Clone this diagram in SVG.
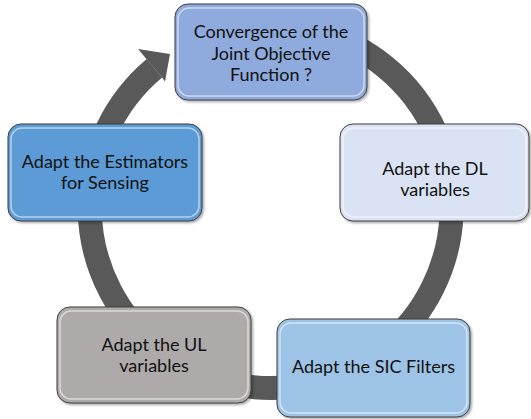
<svg xmlns="http://www.w3.org/2000/svg" width="531" height="419" viewBox="0 0 531 419">
<defs>
<style>
.box{stroke:#3f3f3f;stroke-width:1}
.bevel{fill:none;stroke:#ffffff;stroke-opacity:0.55;stroke-width:1.5}
.lbl{font-family:Lato,"Open Sans","Liberation Sans",sans-serif;font-size:18px;fill:#111111;text-anchor:middle}
.ring{fill:none;stroke:#595959;stroke-width:24}
</style>
<filter id="sh" x="-10%" y="-10%" width="130%" height="130%">
<feDropShadow dx="1.5" dy="1.5" stdDeviation="1.2" flood-color="#000" flood-opacity="0.35"/>
</filter>
</defs>
<rect width="531" height="419" fill="#ffffff"/>
<g id="connectors">
<path class="ring" d="M 317.6 32.2 A 181 181 0 1 1 154.4 68.3"/>
<polygon fill="#595959" points="146.7,59.2 138,49 170,54 165,81.5 162.1,77.5"/>
</g>
<g id="node-convergence">
<rect class="box" x="175" y="4" width="192" height="96" rx="13" fill="#8faadc" filter="url(#sh)"/>
<rect class="bevel" x="178" y="8" width="186" height="88" rx="11"/>
<text class="lbl" x="271" y="38">Convergence of the</text>
<text class="lbl" x="271" y="59.5">Joint Objective</text>
<text class="lbl" x="271" y="81">Function ?</text>
</g>
<g id="node-dl">
<rect class="box" x="340" y="124" width="189" height="97" rx="13" fill="#dae3f3" filter="url(#sh)"/>
<rect class="bevel" x="343" y="128" width="183" height="89" rx="11"/>
<text class="lbl" x="435" y="175">Adapt the DL</text>
<text class="lbl" x="435" y="196">variables</text>
</g>
<g id="node-sic">
<rect class="box" x="277" y="319" width="193" height="98" rx="13" fill="#9dc3e6" filter="url(#sh)"/>
<rect class="bevel" x="280" y="323" width="187" height="90" rx="11"/>
<text class="lbl" x="373.5" y="373">Adapt the SIC Filters</text>
</g>
<g id="node-ul">
<rect class="box" x="57" y="307" width="194" height="96" rx="13" fill="#aeaaaa" filter="url(#sh)"/>
<rect class="bevel" x="60" y="311" width="188" height="88" rx="11"/>
<text class="lbl" x="154" y="351">Adapt the UL</text>
<text class="lbl" x="154" y="372">variables</text>
</g>
<g id="node-estimators">
<rect class="box" x="8" y="124" width="194" height="97" rx="13" fill="#5b9bd5" filter="url(#sh)"/>
<rect class="bevel" x="11" y="128" width="188" height="89" rx="11"/>
<text class="lbl" x="105" y="168">Adapt the Estimators</text>
<text class="lbl" x="105" y="189">for Sensing</text>
</g>
</svg>
